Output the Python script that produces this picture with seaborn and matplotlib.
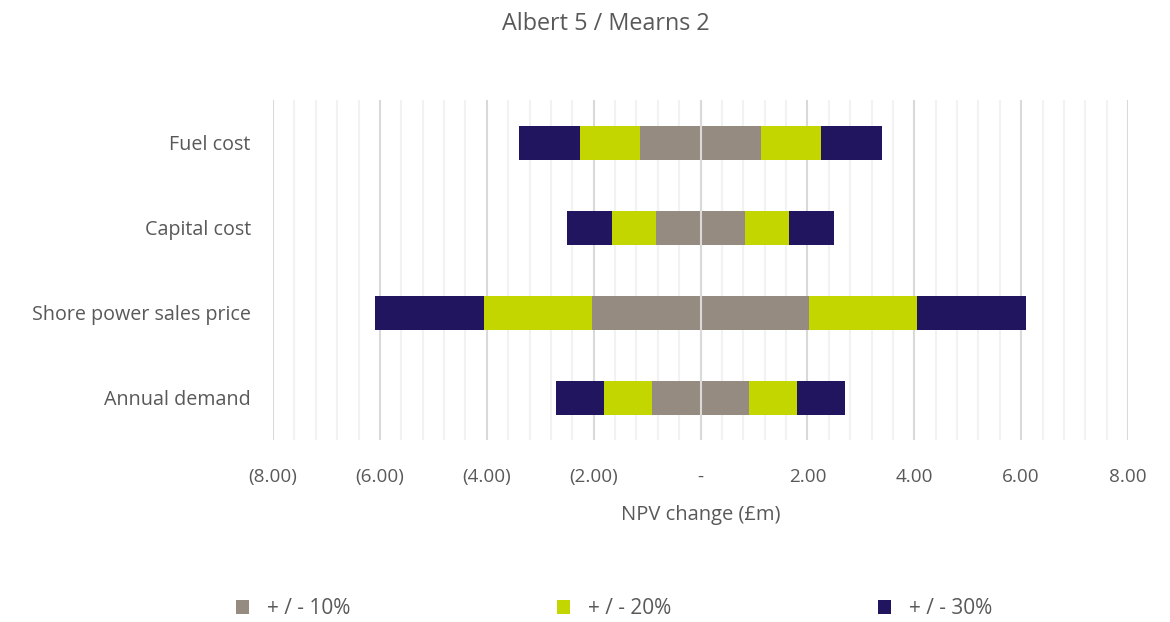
import matplotlib
matplotlib.use("Agg")
import matplotlib.pyplot as plt
import seaborn as sns
import pandas as pd
import numpy as np
from matplotlib.patches import Patch
from matplotlib.ticker import MultipleLocator, FixedLocator

categories = ["Fuel cost", "Capital cost", "Shore power sales price", "Annual demand"]
pm10 = [1.13, 0.83, 2.03, 0.90]
pm20 = [2.26, 1.66, 4.06, 1.80]
pm30 = [3.39, 2.49, 6.09, 2.70]
series_labels = ["+ / - 10%", "+ / - 20%", "+ / - 30%"]
colors = ["#968b80", "#c4d600", "#221560"]
ticks = [-8, -6, -4, -2, 0, 2, 4, 6, 8]
tick_labels = ["(8.00)", "(6.00)", "(4.00)", "(2.00)", "-", "2.00", "4.00", "6.00", "8.00"]

sns.set_theme(style="white")
plt.rcParams['font.family'] = ['Open Sans', 'DejaVu Sans']
text_col = "#595959"

fig = plt.figure(figsize=(11.7, 6.22), dpi=100)
ax = fig.add_axes([273/1170, 1-440/622, (1128-273)/1170, 340/622])

# draw widest first so narrower bands sit on top
for vals, col in [(pm30, colors[2]), (pm20, colors[1]), (pm10, colors[0])]:
    for sign in (1, -1):
        df = pd.DataFrame({"cat": categories, "val": [sign * v for v in vals]})
        sns.barplot(data=df, x="val", y="cat", orient="h", color=col,
                    width=0.4, ax=ax, saturation=1, zorder=3, linewidth=0)

ax.set_xlim(-8, 8)
ax.set_ylim(3.5, -0.5)
ax.xaxis.set_major_locator(FixedLocator(ticks))
ax.set_xticklabels(tick_labels)
ax.xaxis.set_minor_locator(MultipleLocator(0.4))
ax.grid(axis="x", which="major", color="#d9d9d9", linewidth=1.5, zorder=0)
ax.grid(axis="x", which="minor", color="#f2f2f2", linewidth=1.5, zorder=0)
ax.set_axisbelow(True)
ax.axvline(0, color="#d9d9d9", linewidth=1.5, zorder=5)
for s in ax.spines.values():
    s.set_visible(False)
ax.tick_params(axis="x", which="both", length=0, labelsize=13.6, colors=text_col, pad=20)
ax.tick_params(axis="y", which="both", length=0, labelsize=14.2, colors=text_col, pad=16)
ax.set_ylabel("")
ax.set_xlabel("NPV change (£m)", fontsize=14.5, color=text_col, labelpad=14)

fig.text(606/1170, 1-24/622, "Albert 5 / Mearns 2", ha="center", va="center",
         fontsize=16.8, color=text_col)

marker_x = [236, 557, 878]
for c, lab, mx in zip(colors, series_labels, marker_x):
    fig.legend([Patch(facecolor=c, edgecolor="none")], [lab], loc="center left",
               bbox_to_anchor=(mx/1170, 1-609/622), frameon=False, fontsize=15,
               labelcolor=text_col, handlelength=0.62, handleheight=0.62,
               handletextpad=0.85, borderpad=0, borderaxespad=0)

fig.savefig("out.png", dpi=100)
